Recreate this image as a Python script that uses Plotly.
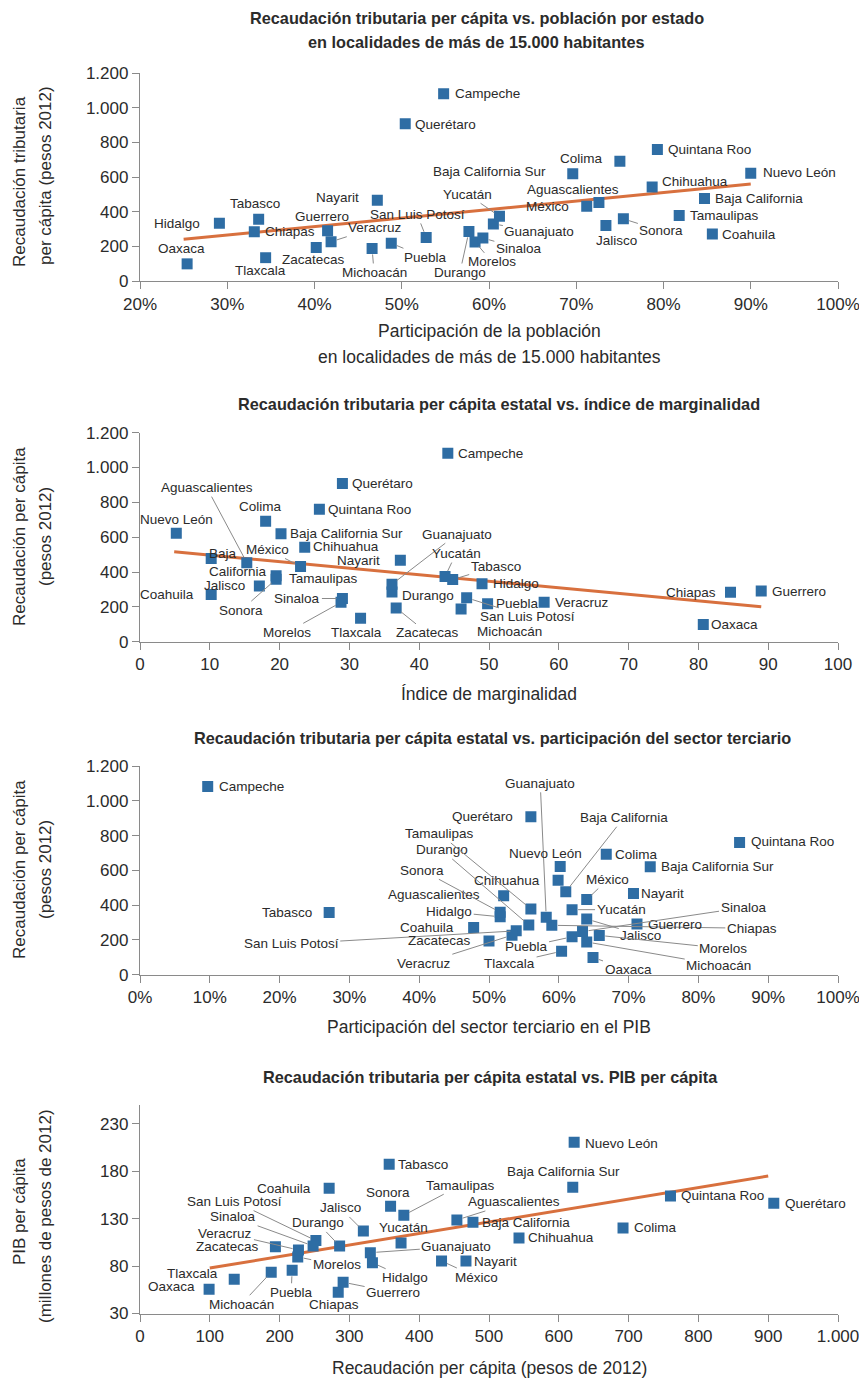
import plotly.graph_objects as go

# ---- datos ----
estados = [
    "Aguascalientes", "Baja California", "Baja California Sur", "Campeche", "Chiapas",
    "Chihuahua", "Coahuila", "Colima", "Durango", "Guanajuato", "Guerrero", "Hidalgo",
    "Jalisco", "México", "Michoacán", "Morelos", "Nayarit", "Nuevo León", "Oaxaca",
    "Puebla", "Querétaro", "Quintana Roo", "San Luis Potosí", "Sinaloa", "Sonora",
    "Tabasco", "Tamaulipas", "Tlaxcala", "Veracruz", "Yucatán", "Zacatecas",
]
# recaudación tributaria per cápita (pesos 2012)
recaudacion = [454, 477, 620, 1082, 284, 543, 271, 692, 286, 330, 291, 333, 320, 432, 188,
               226, 467, 622, 99, 218, 908, 760, 252, 248, 359, 357, 378, 135, 227, 374, 194]
# participación de la población en localidades de más de 15.000 habitantes
poblacion_15mil = [0.726, 0.847, 0.696, 0.548, 0.331, 0.787, 0.856, 0.750, 0.577, 0.605, 0.415,
                   0.291, 0.734, 0.712, 0.466, 0.584, 0.472, 0.900, 0.254, 0.488, 0.504, 0.793,
                   0.528, 0.593, 0.754, 0.336, 0.818, 0.344, 0.419, 0.612, 0.402]
# índice de marginalidad
marginalidad = [15.3, 10.2, 20.2, 44.1, 84.6, 23.6, 10.2, 18.0, 36.1, 36.1, 89.0, 49.0, 17.1,
                23.0, 46.0, 28.8, 37.3, 5.2, 80.7, 49.8, 29.0, 25.7, 46.8, 29.0, 19.5, 44.8,
                19.5, 31.6, 57.9, 43.7, 36.7]
# participación del sector terciario en el PIB
sector_terciario = [0.521, 0.610, 0.731, 0.097, 0.590, 0.599, 0.478, 0.668, 0.557, 0.582, 0.712,
                    0.516, 0.640, 0.640, 0.640, 0.658, 0.707, 0.602, 0.649, 0.619, 0.560, 0.859,
                    0.539, 0.634, 0.516, 0.271, 0.560, 0.604, 0.533, 0.619, 0.500]
# PIB per cápita (Campeche no aparece)
pib_per_capita = [128.7, 126.3, 163.3, None, 52.4, 109.7, 162.2, 120.3, 101.3, 94.2, 63.0, 83.6,
                  117.1, 85.4, 73.5, 89.7, 85.4, 210.8, 55.6, 75.6, 146.4, 154.1, 106.9, 101.3,
                  143.2, 187.6, 133.7, 66.1, 97.0, 104.5, 100.5]

# líneas de tendencia (extremos)
tend1_x, tend1_y = [0.25, 0.90], [241, 560]
tend2_x, tend2_y = [4.9, 89.0], [516, 201]
tend4_x, tend4_y = [100, 900], [78, 175]

ticks_recaudacion = [0, 200, 400, 600, 800, 1000, 1200]
ticks_pct1 = [0.2, 0.3, 0.4, 0.5, 0.6, 0.7, 0.8, 0.9, 1.0]
ticks_marg = [0, 10, 20, 30, 40, 50, 60, 70, 80, 90, 100]
ticks_pct3 = [0, 0.1, 0.2, 0.3, 0.4, 0.5, 0.6, 0.7, 0.8, 0.9, 1.0]
ticks_recaud4 = [0, 100, 200, 300, 400, 500, 600, 700, 800, 900, 1000]
ticks_pib = [30, 80, 130, 180, 230]

# ---- estilo ----
OFF = 8                      # margen del <body> de la página
W, H = 867 - OFF, 1384 - OFF
FUENTE = "Liberation Sans, Arial, sans-serif"
TEXTO = "#2b2b2b"
GRIS = "#8a8a8a"
AZUL = "#2e6da4"
NARANJA = "#d8703e"
T_ETQ = 13.5


def px_x(v):
    return (v - OFF) / W


def px_y(v):
    return 1 - (v - OFF) / H


# posición de etiquetas: (modo, dx, dy) en píxeles; modo l/r/c sin línea, "a" con línea guía
etq1 = {
    "Aguascalientes": ("c", -26, -13), "Baja California": ("l", 8, 0),
    "Baja California Sur": ("r", -25, -2), "Campeche": ("l", 9, 0), "Chiapas": ("l", 9, 0),
    "Chihuahua": ("l", 8, -6), "Coahuila": ("l", 8, 0), "Colima": ("r", -15, -3),
    "Durango": ("a", -9, 41), "Guanajuato": ("a", 46, 8), "Guerrero": ("c", -6, -14),
    "Hidalgo": ("r", -17, 0), "Jalisco": ("c", 11, 15), "México": ("r", -16, 0),
    "Michoacán": ("a", 2, 24), "Morelos": ("a", 17, 20), "Nayarit": ("r", -16, -3),
    "Nuevo León": ("l", 10, -1), "Oaxaca": ("c", -6, -15), "Puebla": ("a", 34, 14),
    "Querétaro": ("l", 8, 1), "Quintana Roo": ("l", 9, 0), "San Luis Potosí": ("a", -9, -23),
    "Sinaloa": ("a", 36, 10), "Sonora": ("a", 38, 12), "Tabasco": ("c", -4, -16),
    "Tamaulipas": ("l", 9, 0), "Tlaxcala": ("c", -5, 13), "Veracruz": ("a", 44, -14),
    "Yucatán": ("a", -32, -22), "Zacatecas": ("c", -3, 12),
}
etq2 = {
    "Aguascalientes": ("a", -40, -75), "Baja California": ("l", -4, 4),
    "Baja California Sur": ("l", 7, 0), "Campeche": ("l", 8, 0), "Chiapas": ("r", -13, 0),
    "Chihuahua": ("l", 6, -1), "Coahuila": ("r", -15, 0), "Colima": ("c", -5, -15),
    "Durango": ("l", 8, 4), "Guanajuato": ("a", 65, -50), "Guerrero": ("l", 9, 0),
    "Hidalgo": ("l", 9, 0), "Jalisco": ("r", -12, 0), "México": ("a", -33, -17),
    "Michoacán": ("a", 48, 23), "Morelos": ("a", -54, 30), "Nayarit": ("r", -18, 0),
    "Nuevo León": ("c", 0, -14), "Oaxaca": ("l", 6, 0), "Puebla": ("l", 6, 0),
    "Querétaro": ("l", 8, 0), "Quintana Roo": ("l", 7, 0), "San Luis Potosí": ("a", 61, 19),
    "Sinaloa": ("a", -45, 0), "Sonora": ("a", -35, 31), "Tabasco": ("a", 43, -13),
    "Tamaulipas": ("l", 11, 3), "Tlaxcala": ("c", -4, 14), "Veracruz": ("l", 9, 0),
    "Yucatán": ("a", 11, -23), "Zacatecas": ("a", 31, 25),
}
texto2 = {"Baja California": "Baja<br>California"}
etq3 = {
    "Aguascalientes": ("r", -22, -1), "Baja California": ("a", 58, -74),
    "Baja California Sur": ("l", 9, 0), "Campeche": ("l", 9, 0), "Chiapas": ("a", 200, 3),
    "Chihuahua": ("r", -16, 0), "Coahuila": ("r", -18, 0), "Colima": ("l", 7, 0),
    "Durango": ("a", -87, -75), "Guanajuato": ("a", -6, -134), "Guerrero": ("l", 9, 0),
    "Hidalgo": ("a", -51, -5), "Jalisco": ("a", 54, 16), "México": ("a", 21, -20),
    "Michoacán": ("a", 132, 23), "Morelos": ("a", 124, 13), "Nayarit": ("l", 6, 0),
    "Nuevo León": ("c", -15, -13), "Oaxaca": ("a", 35, 12), "Puebla": ("a", -46, 10),
    "Querétaro": ("r", -16, 0), "Quintana Roo": ("l", 9, -1), "San Luis Potosí": ("a", -225, 13),
    "Sinaloa": ("a", 161, -24), "Sonora": ("a", -78, -42), "Tabasco": ("r", -15, 0),
    "Tamaulipas": ("a", -91, -75), "Tlaxcala": ("a", -52, 12), "Veracruz": ("a", -88, 28),
    "Yucatán": ("a", 49, 0), "Zacatecas": ("r", -16, 0),
}
etq4 = {
    "Aguascalientes": ("a", 57, -18), "Baja California": ("l", 7, 0),
    "Baja California Sur": ("c", -9, -16), "Chiapas": ("c", -4, 12),
    "Chihuahua": ("l", 7, 0), "Coahuila": ("r", -16, 0), "Colima": ("l", 9, 0),
    "Durango": ("a", -22, -23), "Guanajuato": ("a", 86, -6), "Guerrero": ("a", 50, 10),
    "Hidalgo": ("a", 33, 15), "Jalisco": ("a", -23, -23), "México": ("a", 35, 16),
    "Michoacán": ("a", -30, 32), "Morelos": ("a", 39, 8), "Nayarit": ("l", 6, 0),
    "Nuevo León": ("l", 9, 1), "Oaxaca": ("r", -12, -3), "Puebla": ("a", -1, 22),
    "Querétaro": ("l", 9, 0), "Quintana Roo": ("l", 9, 0), "San Luis Potosí": ("a", -81, -39),
    "Sinaloa": ("a", -80, -29), "Sonora": ("c", -3, -14), "Tabasco": ("l", 7, 0),
    "Tamaulipas": ("a", 57, -30), "Tlaxcala": ("r", -14, -6), "Veracruz": ("a", -73, -17),
    "Yucatán": ("c", 2, -15), "Zacatecas": ("r", -14, 0),
}


def etiquetas(n, xs, ys, spec, textos=None):
    sufijo = "" if n == 1 else str(n)
    anns = []
    for est, x, y in zip(estados, xs, ys):
        if x is None or y is None or est not in spec:
            continue
        modo, dx, dy = spec[est]
        txt = (textos or {}).get(est, est)
        base = dict(x=x, y=y, xref="x" + sufijo, yref="y" + sufijo, text=txt,
                    font=dict(family=FUENTE, size=T_ETQ, color=TEXTO), align="left")
        if modo == "a":
            base.update(showarrow=True, ax=dx, ay=dy, arrowhead=0, arrowwidth=1,
                        arrowcolor=GRIS, standoff=6)
        else:
            ancla = {"l": "left", "r": "right", "c": "center"}[modo]
            base.update(showarrow=False, xanchor=ancla, yanchor="middle",
                        xshift=dx, yshift=-dy)
        anns.append(base)
    return anns


fig = go.Figure()

paneles = [
    (1, poblacion_15mil, recaudacion, tend1_x, tend1_y),
    (2, marginalidad, recaudacion, tend2_x, tend2_y),
    (3, sector_terciario, recaudacion, None, None),
    (4, recaudacion, pib_per_capita, tend4_x, tend4_y),
]
for n, xs, ys, tx, ty in paneles:
    sufijo = "" if n == 1 else str(n)
    if tx is not None:
        fig.add_trace(go.Scatter(x=tx, y=ty, mode="lines", line=dict(color=NARANJA, width=3),
                                 xaxis="x" + sufijo, yaxis="y" + sufijo, hoverinfo="skip"))
    fig.add_trace(go.Scatter(x=xs, y=ys, mode="markers", text=estados,
                             marker=dict(symbol="square", size=11, color=AZUL),
                             xaxis="x" + sufijo, yaxis="y" + sufijo))

eje = dict(showline=True, linecolor=GRIS, linewidth=1.3, ticks="outside", ticklen=7,
           tickwidth=1.3, tickcolor=GRIS, showgrid=False, zeroline=False, automargin=False,
           tickfont=dict(family=FUENTE, size=17, color=TEXTO))
dom_x = [px_x(140), px_x(838)]

fig.update_layout(
    xaxis=dict(eje, domain=dom_x, anchor="y", range=[0.2, 1.0], tickvals=ticks_pct1,
               tickformat=".0%"),
    yaxis=dict(eje, domain=[px_y(281), px_y(73.3)], anchor="x", range=[0, 1200],
               tickvals=ticks_recaudacion, tickformat=","),
    xaxis2=dict(eje, domain=dom_x, anchor="y2", range=[0, 100], tickvals=ticks_marg),
    yaxis2=dict(eje, domain=[px_y(641.7), px_y(432.7)], anchor="x2", range=[0, 1200],
                tickvals=ticks_recaudacion, tickformat=","),
    xaxis3=dict(eje, domain=dom_x, anchor="y3", range=[0, 1.0], tickvals=ticks_pct3,
                tickformat=".0%"),
    yaxis3=dict(eje, domain=[px_y(974.7), px_y(766)], anchor="x3", range=[0, 1200],
                tickvals=ticks_recaudacion, tickformat=","),
    xaxis4=dict(eje, domain=dom_x, anchor="y4", range=[0, 1000], tickvals=ticks_recaud4,
                tickformat=","),
    yaxis4=dict(eje, domain=[px_y(1313.5), px_y(1105)], anchor="x4", range=[30, 250],
                tickvals=ticks_pib),
)

anotaciones = []
anotaciones += etiquetas(1, poblacion_15mil, recaudacion, etq1)
anotaciones += etiquetas(2, marginalidad, recaudacion, etq2, texto2)
anotaciones += etiquetas(3, sector_terciario, recaudacion, etq3)
anotaciones += etiquetas(4, recaudacion, pib_per_capita, etq4)

# títulos (una anotación por línea)
titulos = [
    ("<b>Recaudación tributaria per cápita vs. población por estado</b>", 476.5, 18),
    ("<b>en localidades de más de 15.000 habitantes</b>", 476.5, 42),
    ("<b>Recaudación tributaria per cápita estatal vs. índice de marginalidad</b>", 498.5, 404),
    ("<b>Recaudación tributaria per cápita estatal vs. participación del sector terciario</b>",
     492, 738),
    ("<b>Recaudación tributaria per cápita estatal vs. PIB per cápita</b>", 490, 1077),
]
for txt, cx, cy in titulos:
    anotaciones.append(dict(text=txt, x=px_x(cx), y=px_y(cy), xref="paper", yref="paper",
                            showarrow=False, xanchor="center", yanchor="middle",
                            font=dict(family=FUENTE, size=16.3, color=TEXTO)))

titulos_x = [
    ("Participación de la población", 489, 331),
    ("en localidades de más de 15.000 habitantes", 489, 357),
    ("Índice de marginalidad", 489, 694),
    ("Participación del sector terciario en el PIB", 489, 1027),
    ("Recaudación per cápita (pesos de 2012)", 489, 1368),
]
for txt, cx, cy in titulos_x:
    anotaciones.append(dict(text=txt, x=px_x(cx), y=px_y(cy), xref="paper", yref="paper",
                            showarrow=False, xanchor="center", yanchor="middle",
                            font=dict(family=FUENTE, size=17.5, color=TEXTO)))

titulos_y = [
    ("Recaudación tributaria", 19, 182), ("per cápita (pesos 2012)", 45, 176),
    ("Recaudación per cápita", 19, 537), ("(pesos 2012)", 45, 537),
    ("Recaudación per cápita", 19, 870), ("(pesos 2012)", 45, 870),
    ("PIB per cápita", 19, 1212), ("(millones de pesos de 2012)", 45, 1216),
]
for txt, cx, cy in titulos_y:
    anotaciones.append(dict(text=txt, x=px_x(cx), y=px_y(cy), xref="paper", yref="paper",
                            showarrow=False, xanchor="center", yanchor="middle", textangle=-90,
                            font=dict(family=FUENTE, size=17, color=TEXTO)))

fig.update_layout(
    width=W, height=H, autosize=False,
    margin=dict(l=0, r=0, t=0, b=0, autoexpand=False),
    paper_bgcolor="white", plot_bgcolor="white",
    showlegend=False, separators=",.",
    font=dict(family=FUENTE, color=TEXTO),
    annotations=anotaciones,
)

fig.write_html("out.html")
